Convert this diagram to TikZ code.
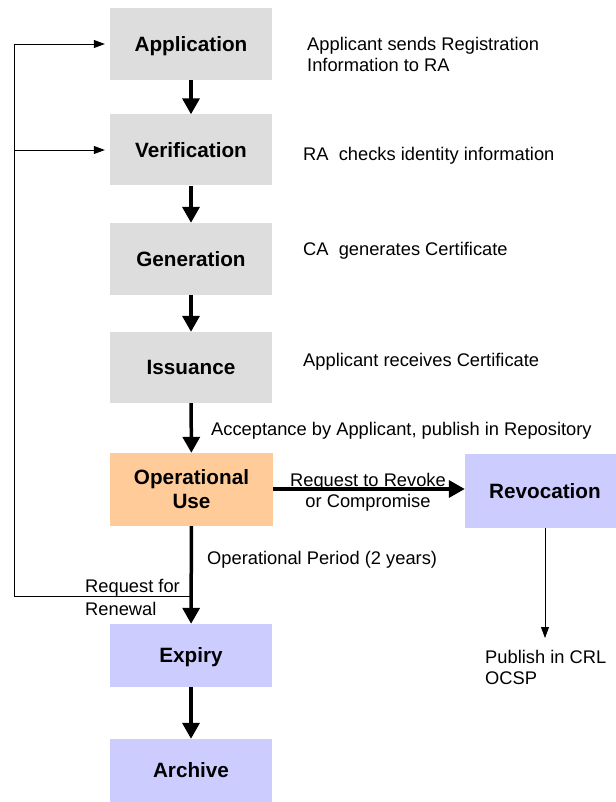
\documentclass[tikz,border=0pt]{standalone}
\usepackage{fontspec}
\setmainfont{Liberation Sans}
\usetikzlibrary{arrows.meta}
\definecolor{stepgray}{HTML}{DDDDDD}
\definecolor{stepamber}{HTML}{FFCC99}
\definecolor{steplilac}{HTML}{CCCCFF}
\tikzset{
  stagebox/.style={minimum width=162pt, inner sep=0pt, text height=19pt, text depth=4.3pt,
    font=\fontsize{20.7}{24}\selectfont\bfseries, align=center},
  notetext/.style={inner sep=0pt, font=\fontsize{18.3}{21}\selectfont, align=left},
  flow/.style={line width=3.5pt, -{Triangle[length=16pt,width=17pt]}},
  link/.style={line width=0.8pt, -{Triangle[length=11pt,width=8pt]}}
}
\begin{document}
\begin{tikzpicture}[x=1pt, y=-1pt]
\useasboundingbox (0,0) rectangle (615,802);

% lifecycle stages
\node[stagebox, fill=stepgray, minimum height=72pt] (app) at (191,44) {Application};
\node[stagebox, fill=stepgray, minimum height=71pt] (ver) at (191,150) {Verification};
\node[stagebox, fill=stepgray, minimum height=72pt] (gen) at (191,259) {Generation};
\node[stagebox, fill=stepgray, minimum height=71pt] (iss) at (191,367.5) {Issuance};
\node[stagebox, fill=stepamber, minimum width=163pt, minimum height=73pt,
      text height=, text depth=] (op) at (191.5,489.5) {Operational\\Use};
\node[stagebox, fill=steplilac, minimum width=160pt, minimum height=74pt] (rev) at (545,491) {Revocation};
\node[stagebox, fill=steplilac, minimum height=63pt] (exp) at (191,655.5) {Expiry};
\node[stagebox, fill=steplilac, minimum height=63pt] (arc) at (191,770.5) {Archive};

% main flow
\draw[flow] (app) -- (ver);
\draw[flow] (ver) -- (gen);
\draw[flow] (gen) -- (iss);
\draw[flow] (iss) -- (op);
\draw[flow] (op) -- (exp);
\draw[flow] (exp) -- (arc);
\draw[flow] (op.east |- 0,489) coordinate (opr) -- (rev.west |- opr);

% renewal loop back to application and verification
\coordinate (rn) at (191,596);
\coordinate (lb) at (14,596);
\coordinate (lt) at (14,44);
\coordinate (lv) at (14,150);
\draw[link, shorten >=5pt] (rn) -- (lb) -- (lt) -- (app.west);
\draw[link, shorten >=5pt] (lv) -- (ver.west);

% revocation publishing
\coordinate (pub) at (545,638);
\draw[link] (rev.south) -- (pub);

% descriptions
\node[notetext, anchor=west] (n1) at (307,54.5) {Applicant sends Registration\\Information to RA};
\node[notetext, anchor=west] (n2) at (303,156) {RA~ checks identity information};
\node[notetext, anchor=west] (n3) at (303,250.5) {CA~ generates Certificate};
\node[notetext, anchor=west] (n4) at (303,361.5) {Applicant receives Certificate};
\node[notetext, anchor=west] (n5) at (211,431) {Acceptance by Applicant, publish in Repository};
\node[notetext, align=center] (n6) at (368,492) {Request to Revoke\\or Compromise};
\node[notetext, anchor=west] (n7) at (207,560) {Operational Period (2 years)};
\node[notetext, anchor=west, font=\fontsize{18.3}{23}\selectfont] (n8) at (85,597.5) {Request for\\Renewal};
\node[notetext, anchor=west] (n9) at (485,667.5) {Publish in CRL\\OCSP};
\end{tikzpicture}
\end{document}
